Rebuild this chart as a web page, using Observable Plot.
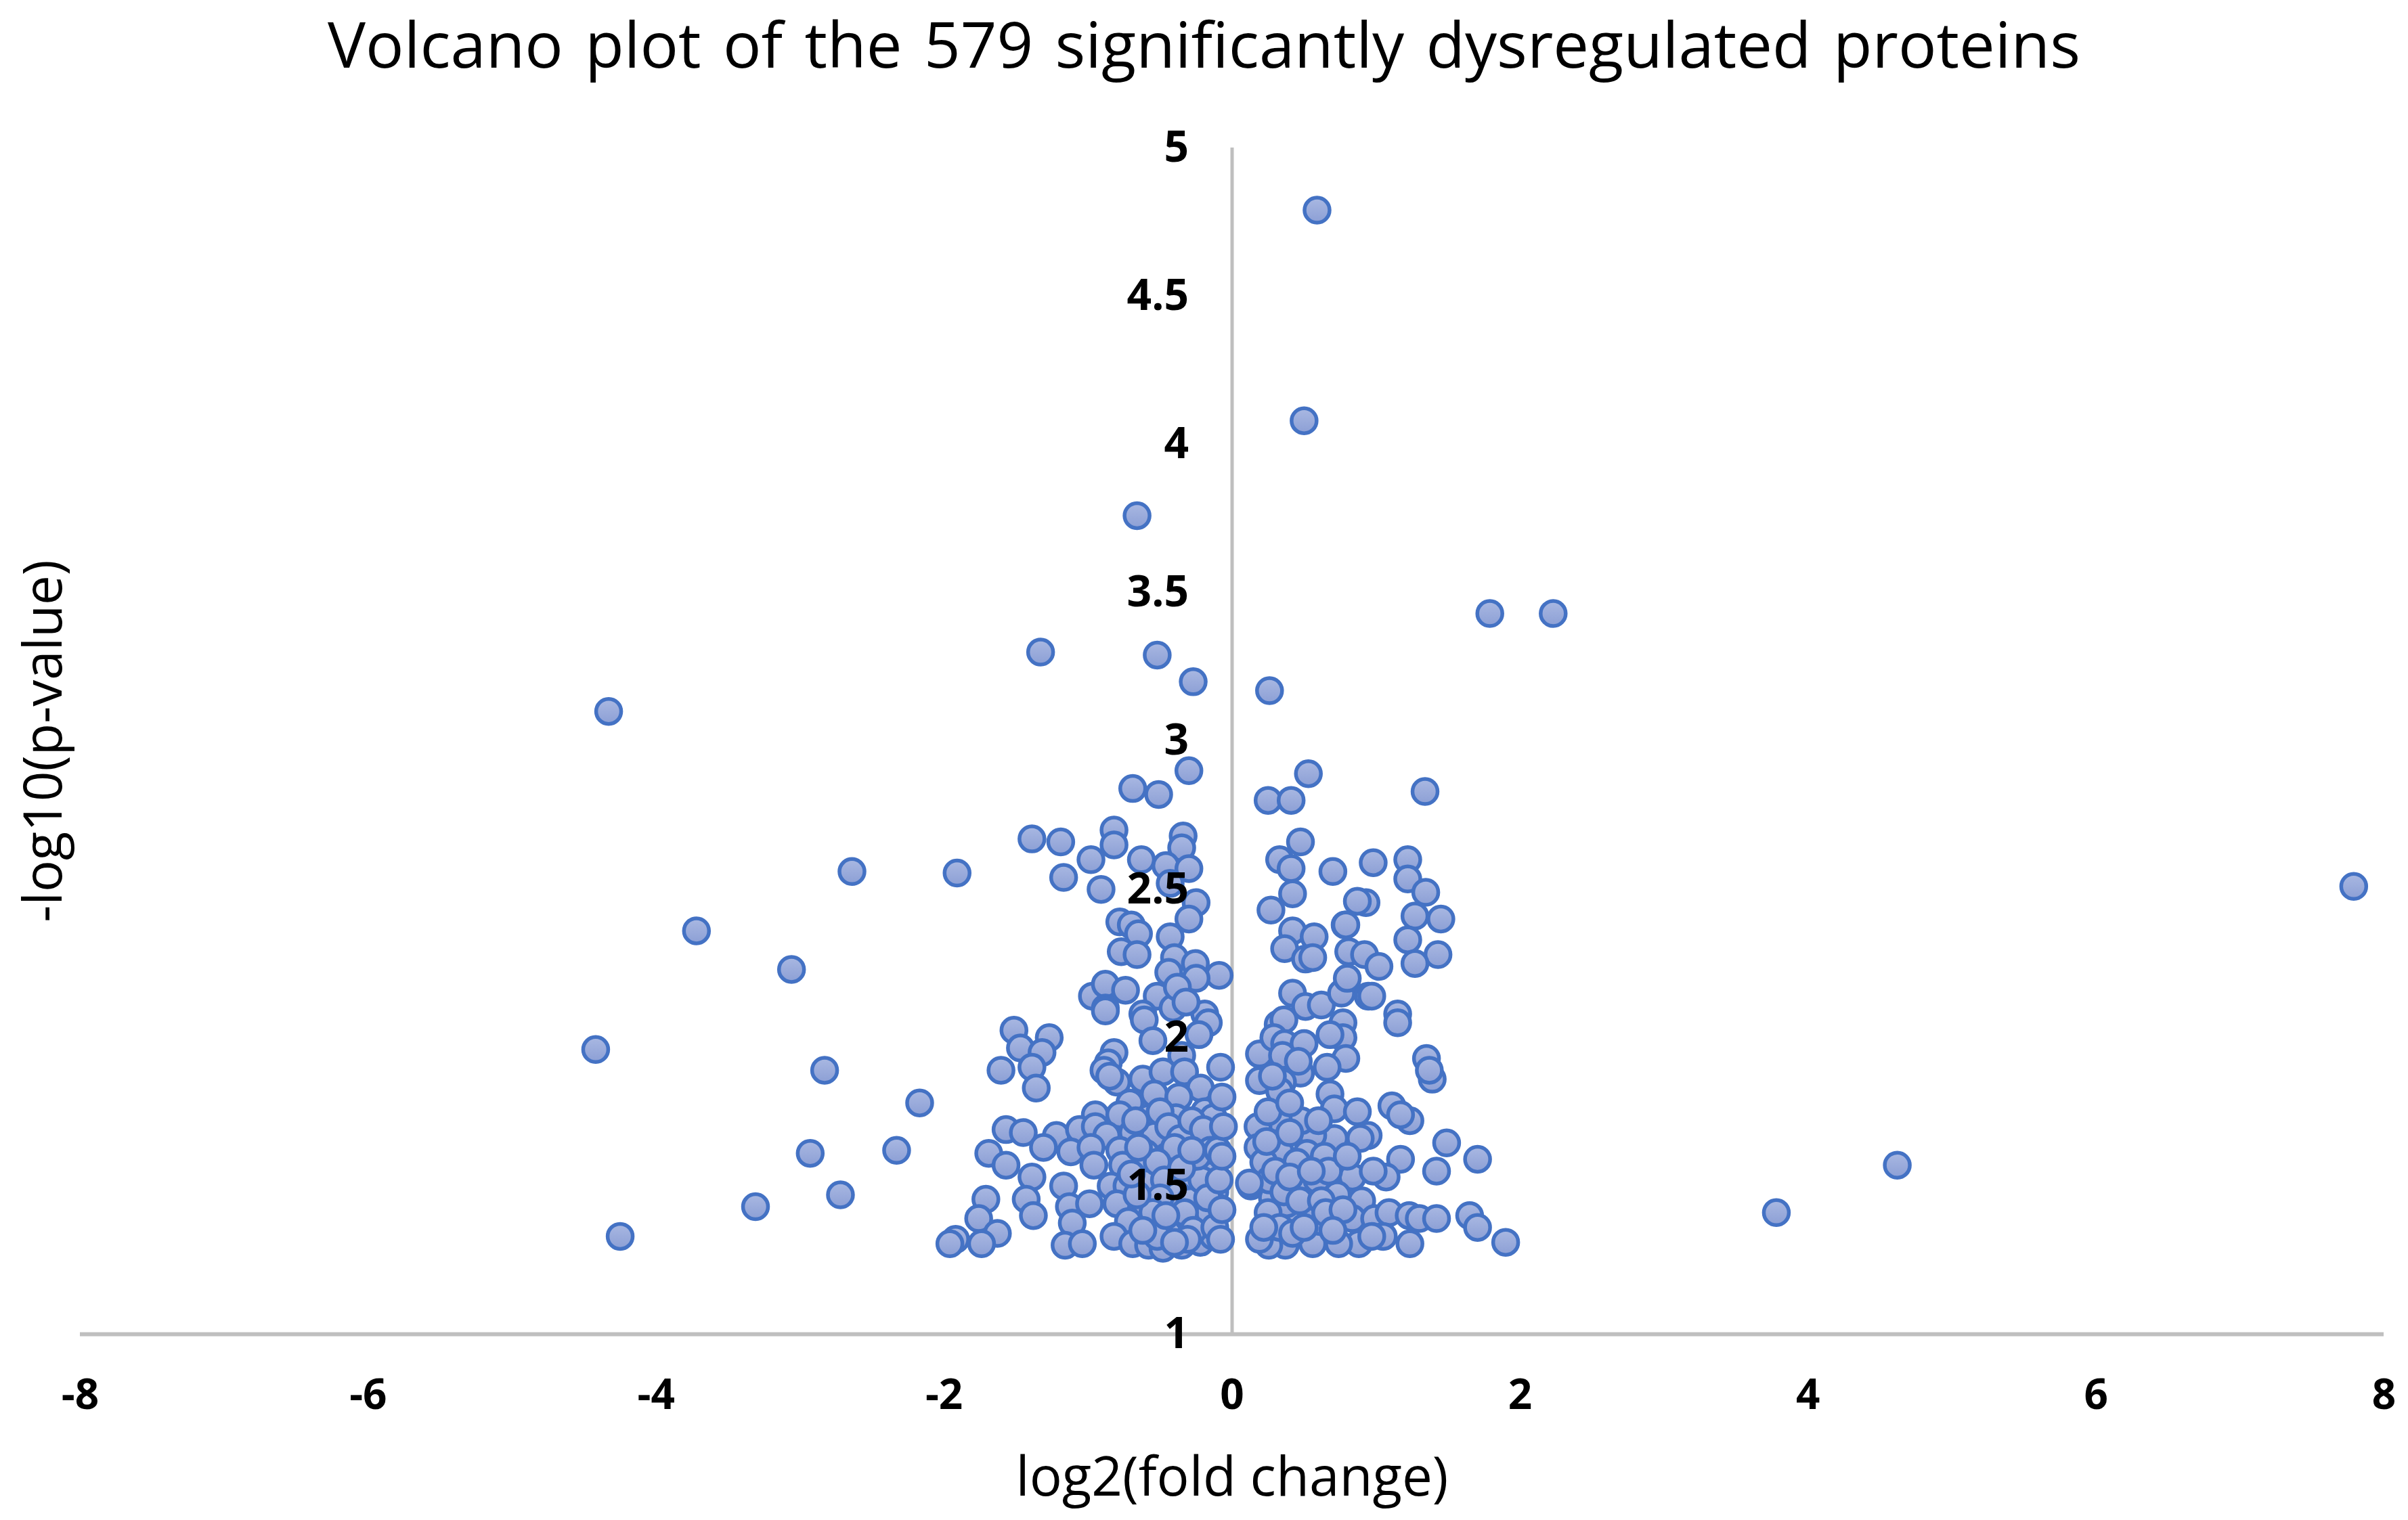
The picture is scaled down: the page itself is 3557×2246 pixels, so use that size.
<!DOCTYPE html>
<html><head><meta charset="utf-8">
<script src="https://cdn.jsdelivr.net/npm/d3@7"></script>
<script src="https://cdn.jsdelivr.net/npm/@observablehq/plot@0.6"></script>
<style>
html,body{margin:0;padding:0;background:#fff;}
#wrap{position:relative;width:3557px;height:2246px;overflow:hidden;background:#fff;}
#title{position:absolute;left:0;top:0;width:3557px;height:150px;text-align:center;font-family:"Open Sans";font-weight:400;font-size:94px;line-height:128px;color:#000;word-spacing:8px;}
#chart{position:absolute;left:0;top:150px;}
</style></head><body>
<div id="wrap"><div id="title">Volcano plot of the 579 significantly dysregulated proteins</div><div id="chart"></div></div>
<script>
const xTicks = [-8, -6, -4, -2, 0, 2, 4, 6, 8];
const yTicks = [1, 1.5, 2, 2.5, 3, 3.5, 4, 4.5, 5];
const xLabel = "log2(fold change)";
const yLabel = "-log10(p-value)";

// Outlying proteins
const outlierFC = [0.59,0.50,-0.66,1.79,2.23,-1.33,-0.52,-0.27,0.26,-4.33,7.79,-3.72,-3.06,-4.42,-2.83,-2.17,-2.93,-2.33,-2.72,-3.31,-4.25,4.62,3.78,1.90,-2.64,-1.91];
const outlierP  = [4.79,4.08,3.76,3.43,3.43,3.30,3.29,3.20,3.17,3.10,2.51,2.36,2.23,1.96,1.89,1.78,1.61,1.62,1.47,1.43,1.33,1.57,1.41,1.31,2.56,2.555];

// Down-regulated, upper part
const downUpperFC = [-0.30,-0.69,-0.51,-1.39,-1.19,-0.82,-0.82,-0.98,-0.63,-0.34,-0.35,-0.46,-0.30,-1.17,-0.91,-0.43,-0.25,-0.30,-0.78,-0.70,-0.65,-0.43,-0.77,-0.66,-0.40,-0.255,-0.09,-0.44,-0.25,-0.97,-0.88,-0.74,-0.52,-0.88,-0.62,-0.41,-0.19,-0.38];
const downUpperP  = [2.90,2.84,2.82,2.67,2.66,2.70,2.65,2.60,2.60,2.68,2.64,2.58,2.57,2.54,2.50,2.52,2.455,2.40,2.39,2.38,2.35,2.34,2.29,2.28,2.27,2.25,2.21,2.22,2.20,2.14,2.18,2.16,2.14,2.10,2.08,2.10,2.08,2.17];

// Down-regulated, lower part
const downLowerFC = [-0.88,-0.61,-0.32,-0.165,-0.23,-0.55,-0.35,-1.515,-1.27,-1.47,-1.32,-1.605,-1.39,-1.36,-0.82,-0.86,-0.89,-0.80,-0.85,-0.62,-0.48,-0.33,-0.22,-0.71,-0.54,-0.37,-0.19,-0.95,-0.78,-0.58,-0.39,-0.13,-1.57,-1.45,-1.22,-1.06,-0.95,-0.87,-0.69,-0.54,-0.30,-0.23,-1.69,-1.31,-1.12,-0.98,-0.78,-0.60,-0.45,-0.31,-0.13,-1.57,-0.96,-0.76,-0.60,-0.42,-0.26,-0.13,-1.39,-1.17,-0.84,-0.73,-0.60,-0.33,-0.18,-0.12,-1.71,-1.43,-1.13,-0.99,-0.80,-0.60,-0.42,-0.23,-1.38,-1.76,-1.11,-0.72,-0.54,-0.36,-0.18,-0.82,-1.63,-1.92,-1.96,-1.74,-1.16,-1.04,-0.69,-0.58,-0.48,-0.35,-0.22,-0.13,-0.11,
  -0.50,-0.44,-0.36,-0.28,-0.20,-0.15,-0.40,-0.52,-0.47,-0.38,-0.29,-0.21,-0.16,-0.50,-0.55,-0.33,-0.27,-0.44,-0.52,-0.62,-0.31,-0.40,-0.66,-0.70,-0.65,-0.67,-0.24,-0.17,-0.12,-0.09,-0.10,-0.46,-0.35,-0.28,-0.08,-0.07,-0.06,-0.07,-0.07,-0.08];
const downLowerP  = [2.09,2.06,2.12,2.05,2.01,1.99,1.94,2.025,2.00,1.965,1.95,1.89,1.90,1.83,1.95,1.915,1.89,1.85,1.87,1.86,1.885,1.885,1.83,1.78,1.81,1.80,1.75,1.74,1.74,1.73,1.73,1.73,1.69,1.68,1.67,1.69,1.70,1.67,1.68,1.67,1.67,1.65,1.61,1.63,1.615,1.63,1.62,1.61,1.60,1.61,1.58,1.57,1.57,1.57,1.56,1.56,1.55,1.55,1.53,1.50,1.50,1.50,1.51,1.50,1.49,1.48,1.455,1.455,1.43,1.44,1.44,1.44,1.43,1.43,1.40,1.39,1.375,1.38,1.38,1.38,1.38,1.33,1.34,1.32,1.305,1.305,1.30,1.305,1.305,1.30,1.29,1.30,1.31,1.33,1.43,
  1.75,1.70,1.66,1.72,1.69,1.62,1.63,1.58,1.52,1.47,1.45,1.52,1.41,1.46,1.41,1.41,1.35,1.34,1.33,1.35,1.32,1.31,1.47,1.54,1.63,1.72,1.60,1.46,1.36,1.52,1.62,1.40,1.56,1.62,1.90,1.80,1.70,1.60,1.42,1.32];

// Up-regulated, upper part
const upUpperFC = [0.53,0.25,0.41,1.34,0.475,0.33,0.41,0.70,0.98,1.22,1.22,1.345,0.42,0.27,0.93,1.27,1.45,0.785,0.42,0.57,0.365,0.51,0.56,0.81,0.92,1.02,1.22,1.43,1.27,0.42,0.51,0.62,0.76,0.80,0.945,0.97,1.15,0.87,0.79];
const upUpperP  = [2.89,2.80,2.80,2.83,2.66,2.60,2.57,2.56,2.59,2.60,2.535,2.49,2.485,2.43,2.455,2.41,2.40,2.38,2.36,2.34,2.30,2.265,2.27,2.29,2.28,2.24,2.33,2.28,2.25,2.15,2.105,2.11,2.15,2.20,2.14,2.14,2.08,2.46,2.38];

// Up-regulated, lower part
const upLowerFC = [1.15,0.32,0.36,0.77,0.77,0.79,0.19,0.29,0.365,0.50,0.35,0.475,0.66,0.19,0.35,0.33,1.35,1.39,1.37,0.68,0.71,0.87,1.11,1.235,1.17,1.49,1.705,1.42,1.17,1.07,0.835,0.98,0.945,0.89,0.71,0.56,0.48,0.32,0.18,0.18,0.33,0.52,0.64,0.45,0.13,0.28,0.44,0.59,0.73,0.90,0.835,0.99,1.09,1.23,1.30,1.42,1.65,1.705,1.235,1.05,0.88,0.74,0.56,0.37,0.255,0.19,0.29,0.45,0.61,0.38,0.54,
  0.22,0.26,0.30,0.36,0.40,0.25,0.33,0.42,0.50,0.22,0.47,0.62,0.67,0.55,0.25,0.40,0.28,0.24,0.40,0.60,0.46,0.65,0.77,0.70,0.97,0.80,0.68,0.12];
const upLowerP  = [2.05,2.045,2.06,2.05,2.00,1.93,1.945,2.00,1.98,1.98,1.94,1.88,1.90,1.855,1.85,1.82,1.93,1.86,1.89,1.81,1.76,1.75,1.77,1.72,1.74,1.645,1.59,1.55,1.59,1.53,1.53,1.55,1.67,1.66,1.66,1.67,1.72,1.725,1.70,1.63,1.62,1.61,1.60,1.58,1.50,1.46,1.50,1.52,1.47,1.45,1.39,1.39,1.41,1.40,1.39,1.39,1.40,1.36,1.305,1.33,1.305,1.305,1.305,1.30,1.30,1.32,1.39,1.39,1.38,1.44,1.43,
  1.58,1.52,1.55,1.48,1.53,1.41,1.36,1.34,1.36,1.36,1.45,1.45,1.55,1.55,1.75,1.78,1.87,1.65,1.68,1.72,1.92,1.41,1.42,1.35,1.33,1.60,2.01,1.51];

const groups = [
  [outlierFC, outlierP], [downUpperFC, downUpperP], [downLowerFC, downLowerP],
  [upUpperFC, upUpperP], [upLowerFC, upLowerP]
];
const data = groups.flatMap(([fc, p]) => fc.map((v, i) => ({fc: v, p: p[i]})));

const font = '"Open Sans", sans-serif';
const chart = Plot.plot({
  width: 3557,
  height: 2096,
  marginTop: 68,
  marginBottom: 275,
  marginLeft: 118,
  marginRight: 36,
  style: {fontFamily: font, background: "#fff", color: "#000", overflow: "visible"},
  x: {domain: [xTicks[0], xTicks[xTicks.length - 1]], axis: null},
  y: {domain: [yTicks[0], yTicks[yTicks.length - 1]], axis: null},
  marks: [
    Plot.ruleX([0], {y1: yTicks[0], y2: yTicks[yTicks.length - 1], stroke: "#bfbfbf", strokeWidth: 5}),
    Plot.ruleY([yTicks[0]], {x1: xTicks[0], x2: xTicks[xTicks.length - 1], stroke: "#bfbfbf", strokeWidth: 6}),
    Plot.dot(data, {x: "fc", y: "p", r: 18.5, fill: "url(#ptGrad)", stroke: "#4472c4", strokeWidth: 5.5}),
    Plot.text(yTicks, {x: 0, y: d => d, text: d => String(d), textAnchor: "end", dx: -64, fontSize: 64, fontWeight: 700, fill: "#000"}),
    Plot.text(xTicks, {x: d => d, y: yTicks[0], text: d => String(d), dy: 91, fontSize: 62, fontWeight: 700, fill: "#000"}),
    Plot.text([xLabel], {x: 0, y: yTicks[0], text: d => d, dy: 213, fontSize: 80, fill: "#000"}),
    Plot.text([yLabel], {frameAnchor: "left", text: d => d, textAnchor: "middle", dx: -52, rotate: -90, fontSize: 78, fill: "#000"})
  ]
});
const defs = d3.select(chart).insert("defs", ":first-child");
const g = defs.append("linearGradient").attr("id", "ptGrad").attr("x1", 0).attr("y1", 0).attr("x2", 0).attr("y2", 1);
g.append("stop").attr("offset", "0%").attr("stop-color", "#a9b8e2");
g.append("stop").attr("offset", "100%").attr("stop-color", "#8c9fd5");
document.getElementById("chart").appendChild(chart);
</script>
</body></html>
